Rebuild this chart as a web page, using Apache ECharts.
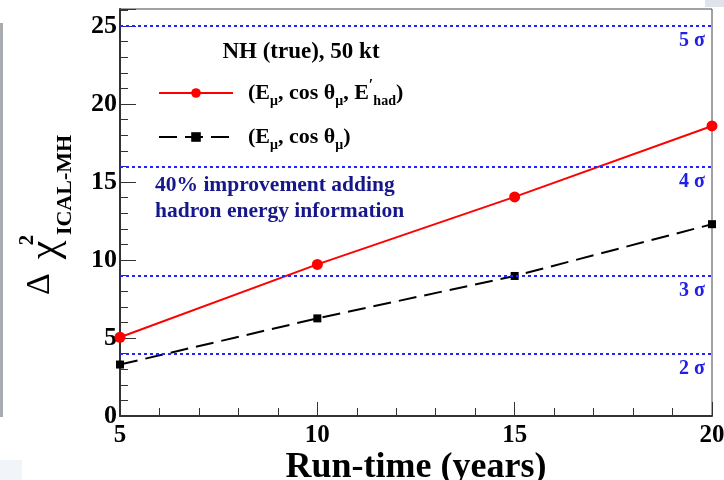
<!DOCTYPE html>
<html>
<head>
<meta charset="utf-8">
<script src="https://cdn.jsdelivr.net/npm/echarts@6/dist/echarts.min.js"></script>
<style>
  html, body { margin: 0; padding: 0; background: #ffffff; }
  #chart { width: 724px; height: 480px; }
</style>
</head>
<body>
<div id="chart"></div>
<script>
// Run-time in years
const runTime = [5, 10, 15, 20];
// Delta chi^2 (ICAL-MH) with hadron energy included
const chiWithHadron = [5.05, 9.72, 14.05, 18.6];
// Delta chi^2 (ICAL-MH) from muon observables only
const chiMuonOnly = [3.3, 6.26, 8.98, 12.3];
// Significance reference levels (n sigma -> n^2)
const sigmaLevels = [4, 9, 16, 25];
const sigmaLabels = ['2 σ', '3 σ', '4 σ', '5 σ'];
// Axis tick labels
const xTicks = [5, 10, 15, 20];
const yTicks = [0, 5, 10, 15, 20, 25];

const serif = '"Liberation Serif", "Times New Roman", serif';

const richLegend = {
  g: { width: 10 },
  t: { fontSize: 22, fontWeight: 'bold', fontFamily: serif, color: '#000', lineHeight: 30, verticalAlign: 'middle' },
  s: { fontSize: 14, fontWeight: 'bold', fontFamily: serif, color: '#000', lineHeight: 30, verticalAlign: 'bottom' },
  p: { fontSize: 16, fontWeight: 'bold', fontFamily: serif, color: '#000', lineHeight: 30, verticalAlign: 'top' }
};

const legendText = {
  full: '{g|}{t|(E}{s|μ}{t|, cos θ}{s|μ}{t|, E}{p|′}{s|had}{t|)}',
  muon: '{g|}{t|(E}{s|μ}{t|, cos θ}{s|μ}{t|)}'
};

const chart = echarts.init(document.getElementById('chart'), null, { renderer: 'canvas' });

const option = {
  animation: false,
  backgroundColor: '#ffffff',
  grid: {
    left: 120, right: 12, top: 9, bottom: 64,
    outerBoundsMode: 'none', containLabel: false,
    show: true, borderColor: '#444', borderWidth: 1, backgroundColor: 'transparent'
  },
  xAxis: {
    type: 'value', min: 5, max: 20, interval: 5,
    name: 'Run-time (years)', nameLocation: 'middle', nameGap: 34, nameMoveOverlap: false,
    nameTextStyle: { fontFamily: serif, fontWeight: 'bold', fontSize: 36, color: '#000' },
    axisLine: { show: true, lineStyle: { color: '#333', width: 2 } },
    axisTick: { show: true, inside: true, length: 14, lineStyle: { color: '#333', width: 1 } },
    minorTick: { show: true, splitNumber: 5, length: 8, lineStyle: { color: '#333', width: 1 } },
    splitLine: { show: false },
    axisLabel: {
      margin: 7, fontFamily: serif, fontWeight: 'bold', fontSize: 25, color: '#000',
      formatter: v => xTicks.includes(v) ? String(v) : ''
    }
  },
  yAxis: {
    type: 'value', min: 0, max: 26.1, interval: 5,
    axisLine: { show: true, lineStyle: { color: '#333', width: 2 } },
    axisTick: { show: true, inside: true, length: 16, lineStyle: { color: '#333', width: 1 } },
    minorTick: { show: true, splitNumber: 5, length: 8, lineStyle: { color: '#333', width: 1 } },
    splitLine: { show: false },
    axisLabel: {
      margin: 3, showMaxLabel: false, fontFamily: serif, fontWeight: 'bold', fontSize: 26, color: '#000',
      formatter: v => yTicks.includes(v) ? String(v) : ''
    }
  },
  legend: {
    orient: 'vertical', left: 153, top: 73, itemWidth: 74, itemHeight: 12, itemGap: 18,
    textStyle: { rich: richLegend },
    formatter: name => legendText[name],
    data: ['full', 'muon']
  },
  series: [
    {
      name: 'full', type: 'line',
      data: runTime.map((x, i) => [x, chiWithHadron[i]]),
      symbol: 'circle', symbolSize: 11,
      lineStyle: { color: '#ff0000', width: 2 },
      itemStyle: { color: '#ff0000' },
      z: 3,
      markLine: {
        silent: true, symbol: 'none',
        lineStyle: { color: '#2323ff', type: [3, 3], width: 2 },
        label: {
          position: 'insideEndBottom', distance: [7, 5],
          fontFamily: serif, fontWeight: 'bold', fontSize: 20, color: '#2020e8'
        },
        data: sigmaLevels.map((v, i) => ({ yAxis: v, label: { formatter: sigmaLabels[i] } }))
      }
    },
    {
      name: 'muon', type: 'line',
      data: runTime.map((x, i) => [x, chiMuonOnly[i]]),
      symbol: 'rect', symbolSize: 8,
      lineStyle: { color: '#000000', width: 2, type: [18, 8] },
      itemStyle: { color: '#000000' },
      z: 3
    }
  ],
  graphic: [
    // scan-edge shading
    { type: 'rect', shape: { x: 0, y: 23, width: 3, height: 394 }, style: { fill: '#a8abb0' }, silent: true },
    { type: 'rect', shape: { x: 705, y: 0, width: 19, height: 7 }, style: { fill: '#dfe4ec' }, silent: true },
    { type: 'rect', shape: { x: 0, y: 460, width: 22, height: 20 }, style: { fill: '#f1f5fa' }, silent: true },
    // heading of the legend box
    {
      type: 'text', x: 301, y: 52,
      style: { text: 'NH (true), 50 kt', align: 'center', verticalAlign: 'middle',
               font: 'bold 23px ' + serif, fill: '#000' }
    },
    // annotation
    {
      type: 'text', x: 155, y: 185,
      style: { text: '40% improvement adding', align: 'left', verticalAlign: 'middle',
               font: 'bold 21.5px ' + serif, fill: '#17178c' }
    },
    {
      type: 'text', x: 155, y: 211,
      style: { text: 'hadron energy information', align: 'left', verticalAlign: 'middle',
               font: 'bold 21.5px ' + serif, fill: '#17178c' }
    },
    // y-axis title: Δ χ² with ICAL-MH subscript
    {
      type: 'text', x: 40, y: 284, rotation: Math.PI / 2,
      style: { text: 'Δ', align: 'center', verticalAlign: 'middle', font: '34px ' + serif, fill: '#000' }
    },
    {
      type: 'text', x: 46, y: 250, rotation: Math.PI / 2,
      style: { text: 'χ', align: 'center', verticalAlign: 'middle', font: '42px ' + serif, fill: '#000' }
    },
    {
      type: 'text', x: 28, y: 240, rotation: Math.PI / 2,
      style: { text: '2', align: 'center', verticalAlign: 'middle', font: 'bold 21px ' + serif, fill: '#000' }
    },
    {
      type: 'text', x: 65, y: 185, rotation: Math.PI / 2,
      style: { text: 'ICAL-MH', align: 'center', verticalAlign: 'middle', font: 'bold 22px ' + serif, fill: '#000' }
    }
  ]
};

chart.setOption(option);
</script>
</body>
</html>
